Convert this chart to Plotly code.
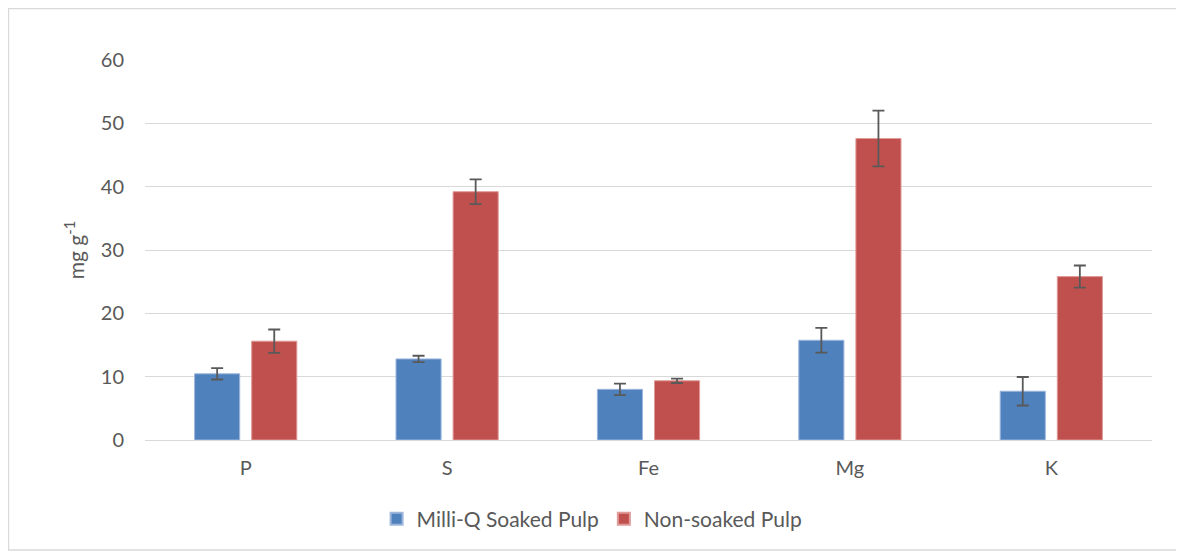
import plotly.graph_objects as go

categories = ["P", "S", "Fe", "Mg", "K"]
milliq_vals = [10.45, 12.8, 8.0, 15.75, 7.7]
milliq_err = [0.9, 0.5, 0.9, 1.95, 2.25]
nonsoaked_vals = [15.6, 39.2, 9.35, 47.6, 25.8]
nonsoaked_err = [1.85, 1.95, 0.35, 4.4, 1.75]
y_ticks = [0, 10, 20, 30, 40, 50, 60]

FONT = "Lato"
TXT = "#595959"

fig = go.Figure()
fig.add_trace(go.Bar(
    name="Milli-Q Soaked Pulp", x=categories, y=milliq_vals,
    marker=dict(color="#4F81BD", line=dict(color="#9DB6DC", width=1)),
    error_y=dict(type="data", array=milliq_err, color=TXT, thickness=1.8, width=6),
))
fig.add_trace(go.Bar(
    name="Non-soaked Pulp", x=categories, y=nonsoaked_vals,
    marker=dict(color="#C0504D", line=dict(color="#E09A98", width=1)),
    error_y=dict(type="data", array=nonsoaked_err, color=TXT, thickness=1.8, width=6),
))

fig.update_layout(
    width=1176, height=547,
    margin=dict(l=137, r=32, t=52, b=115),
    paper_bgcolor="white", plot_bgcolor="white",
    barmode="group", bargap=0.433, bargroupgap=0.21,
    font=dict(family=FONT, size=20, color=TXT),
    showlegend=True,
    legend=dict(orientation="h", x=0.444, xanchor="center", y=-0.208, yanchor="middle",
                font=dict(size=21, color=TXT), itemsizing="constant", traceorder="normal"),
    xaxis=dict(showgrid=False, showline=False, ticks="", ticklabelstandoff=14,
               tickfont=dict(size=20, color=TXT)),
    yaxis=dict(range=[0, 60], tickvals=y_ticks, showgrid=True, gridcolor="#D9D9D9",
               gridwidth=1, zeroline=True, zerolinecolor="#D9D9D9", zerolinewidth=1,
               showline=False, ticks="", ticklabelstandoff=20,
               tickfont=dict(size=20, color=TXT),
               title=dict(text="mg g<sup>-1</sup>", font=dict(size=21, color=TXT), standoff=10)),
    shapes=[dict(type="rect", xref="paper", yref="paper",
                 x0=-0.1356, x1=1.0248, y0=-0.2895, y1=1.1355,
                 line=dict(color="#D9D9D9", width=1.5), fillcolor="rgba(0,0,0,0)", layer="below")],
)

fig.write_html("out.html")
